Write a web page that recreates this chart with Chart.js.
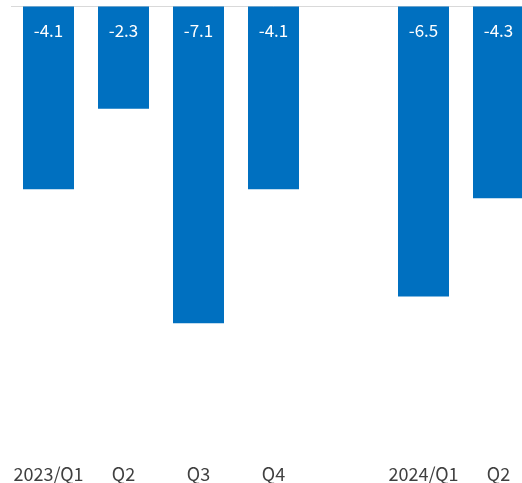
<!DOCTYPE html>
<html>
<head>
<meta charset="utf-8">
<script src="https://cdn.jsdelivr.net/npm/chart.js@4"></script>
<style>
  html, body { margin: 0; padding: 0; background: #fff; overflow: hidden; }
  #wrap { width: 536px; height: 483px; }
</style>
</head>
<body>
<div id="wrap"><canvas id="chart" width="536" height="483"></canvas></div>
<script>
// データ
const categories = ['2023/Q1', 'Q2', 'Q3', 'Q4', '', '2024/Q1', 'Q2'];
const values = [-4.1, -2.3, -7.1, -4.1, null, -6.5, -4.3];
const yMin = -10;
const yMax = 0;

const barColor = '#0070C0';
const fontFamily = '"Noto Sans CJK JP", "Noto Sans", sans-serif';

// バー内の数値ラベル
const valueLabels = {
    id: 'valueLabels',
    afterDatasetsDraw(chart) {
        const ctx = chart.ctx;
        const meta = chart.getDatasetMeta(0);
        ctx.save();
        ctx.fillStyle = '#ffffff';
        ctx.font = '17px ' + fontFamily;
        ctx.textAlign = 'center';
        ctx.textBaseline = 'middle';
        meta.data.forEach((bar, i) => {
            const v = values[i];
            if (v === null) return;
            ctx.fillText(v.toFixed(1), bar.x, bar.base + 24);
        });
        ctx.restore();
    }
};

new Chart(document.getElementById('chart').getContext('2d'), {
    type: 'bar',
    data: {
        labels: categories,
        datasets: [{
            data: values,
            backgroundColor: barColor,
            borderWidth: 0,
            barPercentage: 0.68,
            categoryPercentage: 1.0
        }]
    },
    options: {
        responsive: false,
        animation: false,
        layout: { padding: { left: 11, top: 6, right: 0, bottom: 0 } },
        plugins: {
            legend: { display: false },
            tooltip: { enabled: false }
        },
        scales: {
            x: {
                grid: { display: false, drawTicks: false },
                border: { display: false },
                afterFit: s => { s.height = 30; },
                ticks: {
                    color: '#404040',
                    font: { family: fontFamily, size: 18 },
                    padding: 10,
                    maxRotation: 0,
                    autoSkip: false
                }
            },
            y: {
                min: yMin,
                max: yMax,
                border: { display: false },
                ticks: { display: false },
                grid: {
                    drawTicks: false,
                    color: c => c.tick.value === 0 ? '#d9d9d9' : 'rgba(0,0,0,0)',
                    lineWidth: 1
                }
            }
        }
    },
    plugins: [valueLabels]
});
</script>
</body>
</html>
